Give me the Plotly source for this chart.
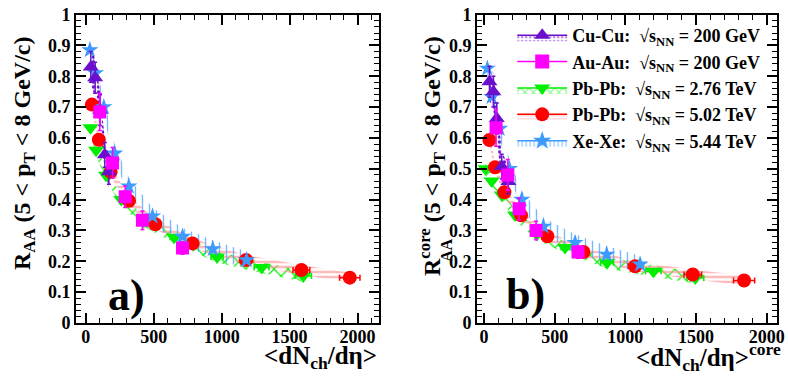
import plotly.graph_objects as go

# ---------------- data: panel a) (inclusive) ----------------
cucu_x = [37, 69, 105, 140, 170]
cucu_y = [0.83, 0.795, 0.69, 0.545, 0.49]
cucu_stat = [0.05, 0.05, 0.05, 0.04, 0.04]
cucu_sys = [0.06, 0.06, 0.06, 0.05, 0.05]

auau_x = [103, 197, 290, 417, 712]
auau_y = [0.684, 0.519, 0.409, 0.333, 0.243]
auau_stat = [0.06, 0.05, 0.035, 0.03, 0.02]

pb276_x = [35, 76, 149, 261, 426, 649, 966, 1294, 1601]
pb276_y = [0.633, 0.56, 0.479, 0.40, 0.33, 0.278, 0.214, 0.18, 0.152]
pb276_xerr = [2, 4, 7, 12, 18, 28, 45, 55, 60]
pb276_sys = [0.018] * 9

pb502_x = [45, 96, 183, 318, 512, 786, 1180, 1587, 1943]
pb502_y = [0.708, 0.594, 0.49, 0.396, 0.32, 0.258, 0.204, 0.172, 0.147]
pb502_xerr = [2, 4, 8, 13, 20, 32, 48, 62, 75]
pb502_sys = [0.016] * 9

xexe_x = [30, 71, 133, 213, 317, 491, 712, 935, 1183]
xexe_y = [0.885, 0.81, 0.70, 0.55, 0.443, 0.346, 0.28, 0.24, 0.204]
xexe_sys = [0.028] * 9

# ---------------- data: panel b) (core) ----------------
cucu_cx = [38, 66, 90, 125, 172]
cucu_cy = [0.782, 0.75, 0.663, 0.507, 0.459]
auau_cx = [85, 168, 248, 368, 665]
auau_cy = [0.633, 0.48, 0.37, 0.30, 0.23]
pb276_cx = [10, 54, 125, 219, 373, 573, 870, 1198, 1495]
pb276_cy = [0.50, 0.46, 0.415, 0.35, 0.287, 0.245, 0.195, 0.168, 0.146]
pb502_cx = [38, 78, 144, 262, 448, 703, 1069, 1477, 1840]
pb502_cy = [0.593, 0.505, 0.424, 0.349, 0.281, 0.23, 0.184, 0.157, 0.138]
xexe_cx = [23, 54, 110, 180, 267, 420, 644, 868, 1104]
xexe_cy = [0.825, 0.733, 0.63, 0.50, 0.40, 0.313, 0.26, 0.222, 0.19]

x_ticks = [0, 500, 1000, 1500, 2000]

labels = {
    'cucu': "Cu-Cu:  √s<sub>NN</sub> = 200 GeV",
    'auau': "Au-Au:  √s<sub>NN</sub> = 200 GeV",
    'pb276': "Pb-Pb:  √s<sub>NN</sub> = 2.76 TeV",
    'pb502': "Pb-Pb:  √s<sub>NN</sub> = 5.02 TeV",
    'xexe': "Xe-Xe:  √s<sub>NN</sub> = 5.44 TeV",
}

C_CU = '#6A0FCC'
C_AU = '#FF00FF'
C_G = '#00EE00'
C_R = '#FF0000'
C_RL = '#FF9A9A'
C_B = '#3D9BFF'

FONT = 'Liberation Serif, Times New Roman, serif'

fig = go.Figure()


def band(x, y, s, xa, ya, shape, color, size, sol=0.3, op=1.0):
    bx = list(x) + list(x)[::-1]
    by = [a + b for a, b in zip(y, s)] + [a - b for a, b in zip(y, s)][::-1]
    fig.add_trace(go.Scatter(
        x=bx, y=by, xaxis=xa, yaxis=ya, mode='lines', fill='toself',
        line=dict(width=0, color='rgba(0,0,0,0)'),
        fillcolor='rgba(0,0,0,0)',
        fillpattern=dict(shape=shape, fgcolor=color, bgcolor='rgba(0,0,0,0)',
                         size=size, solidity=sol, fgopacity=op),
        showlegend=False, hoverinfo='skip'))


def panel(xa, ya, cu, au, p2, p5, xe, cu_s, cu_st, au_st, p2_xe, p5_xe):
    band(p2[0], p2[1], pb276_sys, xa, ya, 'x', C_G, 10, 0.22)
    band(p5[0], p5[1], pb502_sys, xa, ya, '-', C_RL, 5, 0.35)
    band(xe[0], xe[1], xexe_sys, xa, ya, '|', C_B, 7, 0.2, 0.7)
    band(cu[0], cu[1], cu_s, xa, ya, '.', C_CU, 5, 0.4)
    fig.add_trace(go.Scatter(
        x=p2[0], y=p2[1], xaxis=xa, yaxis=ya, mode='markers',
        marker=dict(symbol='triangle-down', size=14, color=C_G),
        error_x=dict(type='data', array=p2_xe, color=C_G, thickness=1.5, width=3),
        showlegend=False))
    fig.add_trace(go.Scatter(
        x=p5[0], y=p5[1], xaxis=xa, yaxis=ya, mode='markers',
        marker=dict(symbol='circle', size=14, color=C_R),
        error_x=dict(type='data', array=p5_xe, color=C_R, thickness=1.5, width=3),
        showlegend=False))
    fig.add_trace(go.Scatter(
        x=xe[0], y=xe[1], xaxis=xa, yaxis=ya, mode='markers',
        marker=dict(symbol='star', size=13, color=C_B),
        showlegend=False))
    fig.add_trace(go.Scatter(
        x=cu[0], y=cu[1], xaxis=xa, yaxis=ya, mode='markers',
        marker=dict(symbol='triangle-up', size=14, color=C_CU),
        error_y=dict(type='data', array=cu_st, color=C_CU, thickness=1.5, width=2),
        showlegend=False))
    fig.add_trace(go.Scatter(
        x=au[0], y=au[1], xaxis=xa, yaxis=ya, mode='markers',
        marker=dict(symbol='square', size=13, color=C_AU),
        error_y=dict(type='data', array=au_st, color=C_AU, thickness=1.5, width=2),
        showlegend=False))


panel('x', 'y', (cucu_x, cucu_y), (auau_x, auau_y), (pb276_x, pb276_y),
      (pb502_x, pb502_y), (xexe_x, xexe_y), cucu_sys, cucu_stat, auau_stat,
      pb276_xerr, pb502_xerr)
panel('x2', 'y2', (cucu_cx, cucu_cy), (auau_cx, auau_cy), (pb276_cx, pb276_cy),
      (pb502_cx, pb502_cy), (xexe_cx, xexe_cy), cucu_sys, cucu_stat, auau_stat,
      pb276_xerr, pb502_xerr)

# legend-only entries
leg = [
    ('cucu', C_CU, 'triangle-up', '.', C_CU, 4),
    ('auau', C_AU, 'square', None, None, 0),
    ('pb276', C_G, 'triangle-down', 'x', C_G, 6),
    ('pb502', C_R, 'circle', '-', C_RL, 3),
    ('xexe', C_B, 'star', '|', C_B, 4),
]
for key, col, sym, pat, pcol, psz in leg:
    kw = {}
    if pat:
        kw = dict(fill='toself', fillcolor='rgba(0,0,0,0)',
                  fillpattern=dict(shape=pat, fgcolor=pcol, bgcolor='rgba(0,0,0,0)',
                                   size=psz, solidity=0.35))
    fig.add_trace(go.Scatter(
        x=[None], y=[None], xaxis='x2', yaxis='y2', mode='lines+markers',
        line=dict(color=col, width=1.5),
        marker=dict(symbol=sym, size=14, color=col),
        name=labels[key], showlegend=True, **kw))

tickfont = dict(family=FONT, size=18, color='black', weight='bold')
common = dict(showline=True, linecolor='black', linewidth=2, mirror='allticks',
              ticks='inside', ticklen=10, tickwidth=1.5, tickcolor='black',
              showgrid=False, zeroline=False, tickfont=tickfont)
xcommon = dict(common, tickvals=x_ticks, ticklabelstandoff=-4,
               minor=dict(dtick=100, ticks='inside', ticklen=5, tickwidth=1.2,
                          tickcolor='black', showgrid=False))
ycommon = dict(common, range=[0, 1], dtick=0.1,
               minor=dict(dtick=0.02, ticks='inside', ticklen=5, tickwidth=1.2,
                          tickcolor='black', showgrid=False))

Y0 = 1 - 323 / 377
Y1 = 1 - 14.5 / 377

fig.update_layout(
    width=788, height=377,
    margin=dict(l=0, r=0, t=0, b=0, autoexpand=False),
    paper_bgcolor='white', plot_bgcolor='white',
    xaxis=dict(xcommon, domain=[76 / 788, 379 / 788], range=[-72, 2158], anchor='y'),
    yaxis=dict(ycommon, domain=[Y0, Y1], anchor='x'),
    xaxis2=dict(xcommon, domain=[477 / 788, 777 / 788], range=[-50, 2073], anchor='y2'),
    yaxis2=dict(ycommon, domain=[Y0, Y1], anchor='x2'),
    legend=dict(x=0.65, y=0.955, xanchor='left', yanchor='top',
                bgcolor='rgba(0,0,0,0)', itemwidth=50, tracegroupgap=0,
                font=dict(family=FONT, size=18, color='black', weight='bold')),
    showlegend=True,
)

tf = dict(family=FONT, size=24, color='black', weight='bold')
ann = [
    dict(text="R<sub>AA</sub> (5 &lt; p<sub>T</sub> &lt; 8 GeV/c)", x=24 / 788, y=1 - 154 / 377,
         textangle=-90),
    dict(text="R<sup>core</sup> (5 &lt; p<sub>T</sub> &lt; 8 GeV/c)", x=432 / 788,
         y=1 - 156 / 377, textangle=-90),
    dict(text="&lt;dN<sub>ch</sub>/dη&gt;", x=379 / 788, y=1 - 357 / 377, xanchor='right',
         font=dict(tf, size=25)),
    dict(text="&lt;dN<sub>ch</sub>/dη&gt;<sup>core</sup>", x=783 / 788, y=1 - 357 / 377,
         xanchor='right', font=dict(tf, size=25)),
    dict(text="AA", x=446 / 788, y=1 - 250 / 377, textangle=-90,
         font=dict(tf, size=16)),
    dict(text="a)", x=126 / 788, y=1 - 295 / 377, font=dict(tf, size=44)),
    dict(text="b)", x=525 / 788, y=1 - 294 / 377, font=dict(tf, size=44)),
]
for a in ann:
    a.setdefault('xanchor', 'center')
    a.setdefault('font', tf)
    fig.add_annotation(xref='paper', yref='paper', showarrow=False, yanchor='middle', **a)

fig.write_html("out.html", config={'displayModeBar': False},
               post_script="document.body.style.margin='0px';")
